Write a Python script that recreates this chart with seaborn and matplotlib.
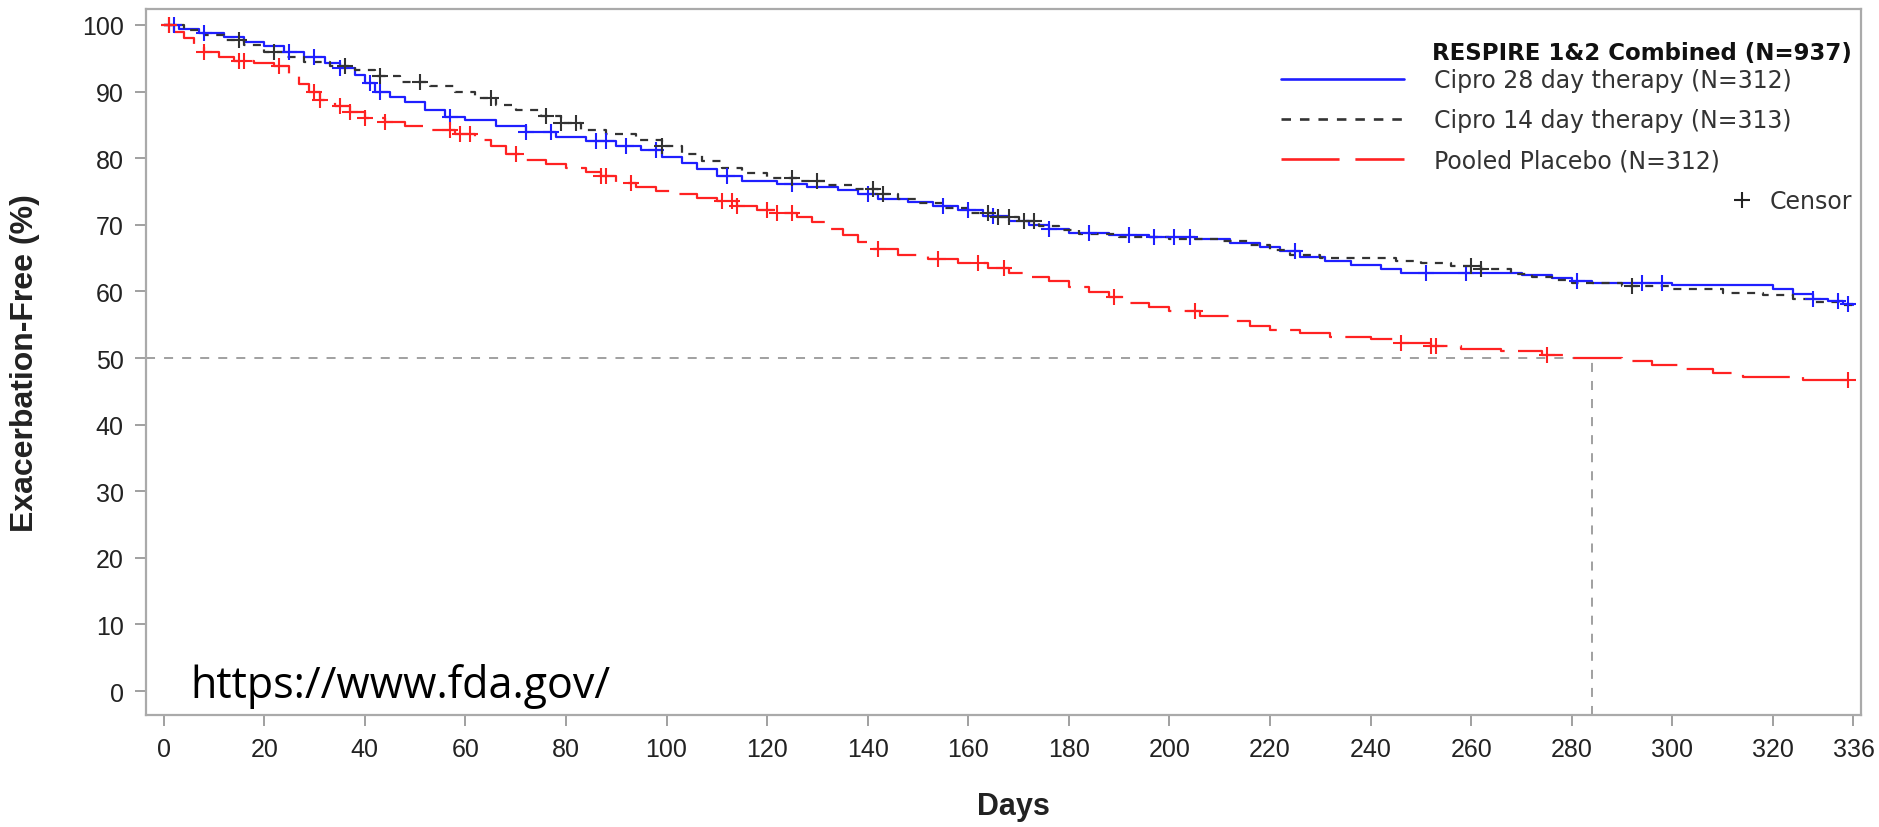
import numpy as np
import pandas as pd
import matplotlib
matplotlib.use("Agg")
import matplotlib.pyplot as plt
import seaborn as sns
from matplotlib.lines import Line2D

# Kaplan-Meier estimates: day of each step and % exacerbation-free after it
cipro28_day = [0, 3, 7, 12, 16, 20, 24, 28, 32, 35, 38, 40, 42, 45, 48, 52, 56, 60, 66,
               72, 78, 84, 90, 95, 99, 103, 106, 110, 115, 122, 128, 134, 138, 142, 148,
               153, 158, 163, 168, 172, 176, 180, 188, 196, 205, 212, 218, 222, 226, 231,
               236, 242, 246, 270, 276, 280, 284, 300, 320, 324, 328, 331, 334, 336]
cipro28_surv = [100, 99.4, 98.8, 98.2, 97.5, 96.8, 96.0, 95.2, 94.3, 93.6, 92.5, 91.3,
                90.0, 89.2, 88.4, 87.3, 86.2, 85.7, 84.9, 84.0, 83.2, 82.6, 81.9, 81.2,
                80.2, 79.3, 78.4, 77.4, 76.6, 76.1, 75.7, 75.2, 74.6, 73.9, 73.4, 72.8,
                72.2, 71.3, 70.6, 70.0, 69.4, 68.8, 68.4, 68.1, 67.8, 67.2, 66.7, 66.0,
                65.2, 64.6, 64.0, 63.4, 62.8, 62.4, 62.0, 61.6, 61.3, 61.0, 60.4, 59.6,
                58.9, 58.5, 58.1, 58.0]

cipro14_day = [0, 4, 8, 12, 16, 20, 24, 28, 33, 38, 42, 47, 53, 58, 62, 66, 70, 75, 79,
               83, 88, 94, 99, 103, 107, 111, 115, 120, 126, 132, 137, 142, 146, 150, 155,
               160, 165, 170, 174, 178, 182, 190, 200, 210, 216, 220, 224, 230, 245, 250,
               256, 262, 268, 272, 276, 280, 290, 300, 310, 318, 324, 328, 334, 336]
cipro14_surv = [100, 99.2, 98.5, 97.8, 97.0, 96.0, 95.2, 94.5, 93.8, 93.2, 92.3, 91.4,
                90.8, 90.0, 89.0, 88.0, 87.2, 86.3, 85.3, 84.3, 83.6, 82.8, 81.8, 80.6,
                79.6, 78.6, 77.8, 77.0, 76.6, 76.0, 75.4, 74.6, 73.8, 73.2, 72.5, 71.8,
                71.2, 70.5, 69.8, 69.2, 68.6, 68.2, 67.9, 67.5, 67.0, 66.2, 65.4, 65.0,
                64.6, 64.2, 63.8, 63.4, 62.6, 62.2, 61.7, 61.2, 60.8, 60.3, 59.8, 59.4,
                58.9, 58.4, 58.0, 58.0]

placebo_day = [0, 2, 4, 6, 8, 11, 14, 18, 22, 25, 27, 29, 31, 34, 37, 40, 44, 48, 53, 58,
               62, 65, 68, 72, 76, 80, 84, 87, 90, 94, 98, 102, 106, 110, 114, 118, 122,
               126, 129, 132, 135, 138, 141, 146, 152, 158, 164, 168, 172, 176, 180, 184,
               188, 192, 196, 200, 206, 212, 216, 220, 226, 232, 240, 246, 252, 258, 266,
               274, 280, 284, 290, 296, 302, 308, 314, 326, 336]
placebo_surv = [100, 99.0, 98.0, 97.0, 96.0, 95.2, 94.6, 94.3, 93.8, 92.6, 91.2, 89.9,
                88.8, 87.8, 86.9, 86.1, 85.4, 84.8, 84.2, 83.6, 82.8, 81.8, 80.6, 79.8,
                79.2, 78.6, 78.0, 77.3, 76.3, 75.6, 75.1, 74.6, 74.0, 73.5, 72.8, 72.2,
                71.8, 71.2, 70.4, 69.4, 68.4, 67.4, 66.4, 65.5, 64.9, 64.2, 63.5, 62.8,
                62.2, 61.5, 60.6, 59.9, 59.1, 58.3, 57.6, 57.0, 56.3, 55.5, 54.8, 54.2,
                53.7, 53.2, 52.8, 52.2, 51.8, 51.4, 51.0, 50.5, 50.0, 50.0, 49.5, 48.9,
                48.4, 47.8, 47.2, 46.7, 46.0]

# Censoring times (days)
cipro28_censor = [2, 8, 25, 30, 35, 41, 43, 57, 72, 77, 86, 88, 92, 98, 112, 125, 140, 155,
                  160, 165, 176, 184, 192, 197, 201, 204, 225, 251, 259, 281, 294, 298,
                  328, 333, 335]
cipro14_censor = [1, 15, 22, 36, 43, 51, 65, 76, 79, 82, 99, 125, 130, 141, 143, 164, 166,
                  168, 171, 173, 260, 262, 292]
placebo_censor = [1, 8, 15, 16, 23, 30, 31, 35, 37, 40, 44, 57, 59, 61, 70, 87, 88, 93,
                  111, 113, 114, 120, 122, 125, 142, 154, 162, 167, 189, 205, 246, 252,
                  253, 275, 335]

group_labels = ["Cipro 28 day therapy (N=312)", "Cipro 14 day therapy (N=313)",
                "Pooled Placebo (N=312)"]
legend_title = "RESPIRE 1&2 Combined (N=937)"
median_placebo_day = 284
x_ticks = list(range(0, 321, 20)) + [336]
y_ticks = list(range(0, 101, 10))

sns.set_theme(style="white")
plt.rcParams["font.family"] = ["Liberation Sans", "DejaVu Sans"]

fig = plt.figure(figsize=(18.79, 8.28), dpi=100)
ax = fig.add_axes([146 / 1879, 1 - 716 / 828, 1715 / 1879, 706 / 828])

groups = [
    (cipro28_day, cipro28_surv, cipro28_censor, "#1f1fff", "-"),
    (cipro14_day, cipro14_surv, cipro14_censor, "#333333", (0, (3.6, 3.4))),
    (placebo_day, placebo_surv, placebo_censor, "#ff2222", (0, (22, 6))),
]

handles = []
for (days, surv, cens, color, ls), label in zip(groups, group_labels):
    df = pd.DataFrame({"day": days, "surv": surv})
    sns.lineplot(data=df, x="day", y="surv", ax=ax, estimator=None, sort=True,
                 drawstyle="steps-post", color=color, linestyle=ls, linewidth=1.6,
                 legend=False)
    d = np.asarray(days)
    s = np.asarray(surv)
    idx = np.searchsorted(d, np.asarray(cens), side="right") - 1
    cdf = pd.DataFrame({"day": cens, "surv": s[idx]})
    sns.scatterplot(data=cdf, x="day", y="surv", ax=ax, marker="+", s=120,
                    color=color, linewidth=1.5, legend=False, zorder=3)
    handles.append(Line2D([], [], color=color, linestyle=ls, linewidth=1.9))

# median reference lines for placebo
ref_style = dict(color="#999999", linestyle=(0, (5, 5)), linewidth=1.3, zorder=1)
ax.plot([-3.5, median_placebo_day], [50, 50], **ref_style)
ax.plot([median_placebo_day, median_placebo_day], [-3.6, 50], **ref_style)

ax.set_xlim(-3.5, 337.5)
ax.set_ylim(-3.6, 102.4)
ax.set_xticks(x_ticks)
ax.set_yticks(y_ticks)
ax.tick_params(axis="both", which="major", length=8, width=1.3, color="#999999",
               labelsize=18, labelcolor="#222222", pad=8, bottom=True, left=True)
for sp in ax.spines.values():
    sp.set_color("#aaaaaa")
    sp.set_linewidth(1.6)

ax.set_xlabel("Days", fontsize=22, fontweight="bold", color="#222222")
ax.set_ylabel("Exacerbation-Free (%)", fontsize=23, fontweight="bold", color="#222222")
ax.xaxis.set_label_coords(0.506, -0.107)
ax.yaxis.set_label_coords(-0.062, 0.5)

# legend: group title, line entries, censor key
ax.text(0.9948, 0.939, legend_title, transform=ax.transAxes, ha="right", va="center",
        fontsize=16.5, fontweight="bold", family="DejaVu Sans", color="#111111")
leg1 = ax.legend(handles, group_labels, loc="upper left", bbox_to_anchor=(0.6618, 0.916),
                 frameon=False, borderpad=0, borderaxespad=0, handlelength=5.2,
                 handletextpad=1.3, labelspacing=0.68,
                 prop={"family": "DejaVu Sans", "size": 17})
for t in leg1.get_texts():
    t.set_color("#333333")
ax.add_artist(leg1)
censor_handle = Line2D([], [], marker="+", linestyle="none", color="#222222",
                       markersize=12, markeredgewidth=1.5)
leg2 = ax.legend([censor_handle], ["Censor"], loc="upper right",
                 bbox_to_anchor=(0.9948, 0.745), frameon=False, borderpad=0,
                 borderaxespad=0, handlelength=0.9, handletextpad=0.7,
                 prop={"family": "DejaVu Sans", "size": 17})
for t in leg2.get_texts():
    t.set_color("#333333")

ax.text(0.0257, 0.025, "https://www.fda.gov/", transform=ax.transAxes, ha="left",
        va="baseline", fontsize=31, family="Open Sans", color="black")

fig.savefig("out.png", dpi=100)
